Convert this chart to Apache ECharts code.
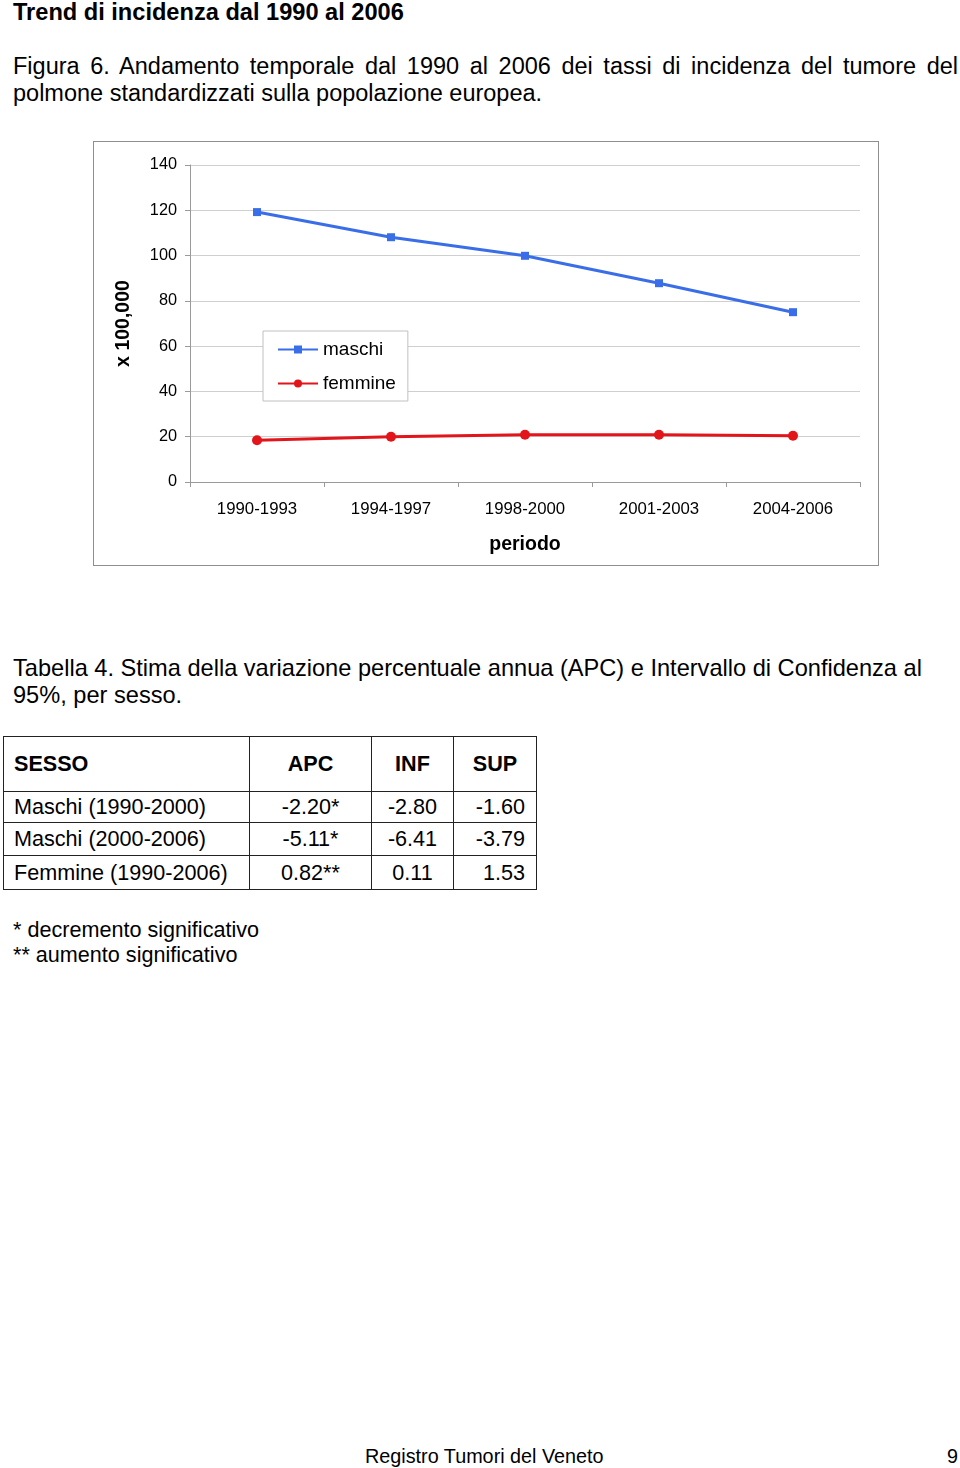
<!DOCTYPE html>
<html>
<head>
<meta charset="utf-8">
<script src="https://cdn.jsdelivr.net/npm/echarts@6/dist/echarts.min.js"></script>
<style>
  html, body { margin: 0; padding: 0; background: #fff; }
  body { width: 960px; height: 1468px; position: relative; font-family: "Liberation Sans", Arial, sans-serif; color: #000; overflow: hidden; }
  .abs { position: absolute; }
  #title { left: 13px; top: -1px; font-size: 23.6px; font-weight: bold; line-height: 26px; white-space: nowrap; }
  #fig { left: 13px; top: 53px; width: 945px; font-size: 23.5px; line-height: 27px; text-align: justify; }
  #chartBox { left: 93px; top: 141px; width: 786px; height: 425px; box-sizing: border-box; border: 1px solid #8f8f8f; }
  #chart { width: 784px; height: 423px; }
  #tab { left: 13px; top: 655px; width: 945px; font-size: 23.6px; line-height: 27px; }
  table { position: absolute; left: 3px; top: 736px; border-collapse: collapse; font-size: 21.6px; table-layout: fixed; }
  td { border: 1px solid #222; padding: 0; box-sizing: border-box; white-space: nowrap; }
  .h td { height: 55px; font-weight: bold; }
  #notes { left: 13px; top: 917px; font-size: 21.6px; line-height: 25px; }
  #footer { left: 365px; top: 1444px; font-size: 19.8px; line-height: 24px; white-space: nowrap; }
  #page { left: 947px; top: 1444px; font-size: 19.8px; line-height: 24px; }
</style>
</head>
<body>
<div class="abs" id="title">Trend di incidenza dal 1990 al 2006</div>
<div class="abs" id="fig">Figura 6. Andamento temporale dal 1990 al 2006 dei tassi di incidenza del tumore del polmone standardizzati sulla popolazione europea.</div>
<div class="abs" id="chartBox"><div id="chart"></div></div>
<div class="abs" id="tab">Tabella 4. Stima della variazione percentuale annua (APC) e Intervallo di Confidenza al 95%, per sesso.</div>
<table id="tbl"></table>
<div class="abs" id="notes">* decremento significativo<br>** aumento significativo</div>
<div class="abs" id="footer">Registro Tumori del Veneto</div>
<div class="abs" id="page">9</div>
<script>
// ---- data ----
const periods = ['1990-1993', '1994-1997', '1998-2000', '2001-2003', '2004-2006'];
const maschi = [119.2, 108.1, 99.9, 87.8, 75.0];
const femmine = [18.4, 20.0, 20.9, 20.9, 20.4];
const yTicks = { min: 0, max: 140, interval: 20 };
const tableHeader = ['SESSO', 'APC', 'INF', 'SUP'];
const tableSesso = ['Maschi (1990-2000)', 'Maschi (2000-2006)', 'Femmine (1990-2006)'];
const tableAPC = ['-2.20*', '-5.11*', '0.82**'];
const tableINF = ['-2.80', '-6.41', '0.11'];
const tableSUP = ['-1.60', '-3.79', '1.53'];

// ---- table ----
const colW = [246, 122, 82, 83];
const rowH = [31, 33, 34];
const tbl = document.getElementById('tbl');
let html = '<colgroup>' + colW.map(w => `<col style="width:${w}px">`).join('') + '</colgroup>';
html += '<tr class="h">';
tableHeader.forEach((h, i) => {
  const align = i === 0 ? 'left' : 'center';
  html += `<td style="text-align:${align};padding-left:${i===0?10:0}px">${h}</td>`;
});
html += '</tr>';
tableSesso.forEach((s, r) => {
  html += `<tr style="height:${rowH[r]}px">`;
  html += `<td style="padding-left:10px">${s}</td>`;
  html += `<td style="text-align:center">${tableAPC[r]}</td>`;
  html += `<td style="text-align:center">${tableINF[r]}</td>`;
  html += `<td style="text-align:right;padding-right:11px">${tableSUP[r]}</td>`;
  html += '</tr>';
});
tbl.innerHTML = html;
tbl.style.width = colW.reduce((a, b) => a + b, 0) + 'px';

// ---- chart ----
const FONT = '"Liberation Sans", Arial, sans-serif';
const blue = '#3a6ee8';
const red = '#e2151b';
const chart = echarts.init(document.getElementById('chart'), null, { renderer: 'canvas' });
chart.setOption({
  animation: false,
  textStyle: { fontFamily: FONT },
  grid: { left: 96, right: 18, top: 23, bottom: 83, containLabel: false },
  legend: {
    orient: 'vertical',
    left: 169, top: 189,
    backgroundColor: '#fff',
    borderColor: '#c0c0c0', borderWidth: 1,
    padding: [9, 12, 8, 14],
    itemGap: 15,
    itemWidth: 40, itemHeight: 10,
    textStyle: { fontSize: 19, color: '#000', fontFamily: FONT, lineHeight: 19 },
    data: ['maschi', 'femmine']
  },
  xAxis: {
    type: 'category',
    data: periods,
    boundaryGap: true,
    name: 'periodo',
    nameLocation: 'middle',
    nameGap: 53,
    nameTextStyle: { fontSize: 19.5, fontWeight: 'bold', color: '#000', fontFamily: FONT },
    axisLine: { lineStyle: { color: '#9a9a9a', width: 1 } },
    axisTick: { show: true, length: 5, lineStyle: { color: '#9a9a9a' } },
    axisLabel: { fontSize: 16.8, color: '#000', margin: 19, fontFamily: FONT },
    splitLine: { show: false }
  },
  yAxis: {
    type: 'value',
    min: yTicks.min, max: yTicks.max, interval: yTicks.interval,
    name: 'x 100,000',
    nameLocation: 'middle',
    nameRotate: 90,
    nameGap: 56,
    nameTextStyle: { fontSize: 19.5, fontWeight: 'bold', color: '#000', fontFamily: FONT },
    axisLine: { show: true, lineStyle: { color: '#9a9a9a', width: 1 } },
    axisTick: { show: true, length: 5, lineStyle: { color: '#9a9a9a' } },
    axisLabel: { fontSize: 16.3, color: '#000', margin: 13, fontFamily: FONT, padding: [3, 0, 0, 0] },
    splitLine: { show: true, lineStyle: { color: '#cfcfcf', width: 1 } }
  },
  series: [
    {
      name: 'maschi', type: 'line', data: maschi,
      symbol: 'rect', symbolSize: 8, showAllSymbol: true,
      itemStyle: { color: blue },
      lineStyle: { color: blue, width: 3 }
    },
    {
      name: 'femmine', type: 'line', data: femmine,
      symbol: 'circle', symbolSize: 10, showAllSymbol: true,
      itemStyle: { color: red },
      lineStyle: { color: red, width: 3 }
    }
  ]
});
</script>
</body>
</html>
